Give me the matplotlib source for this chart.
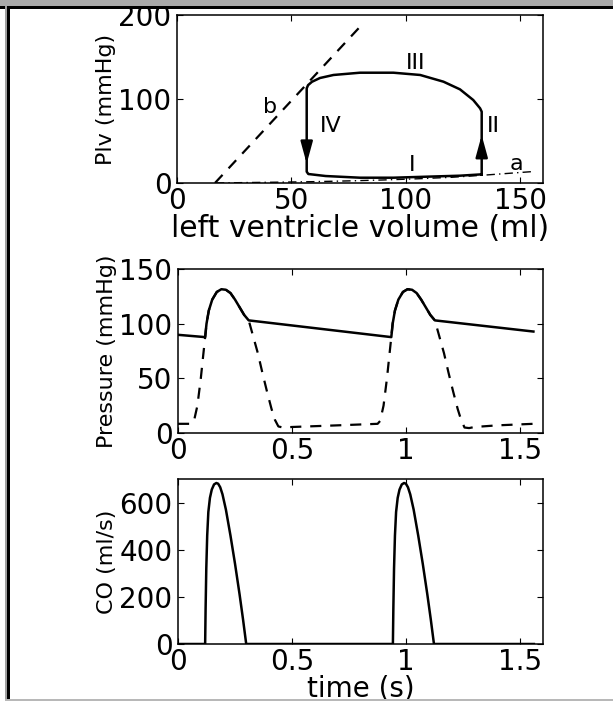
import numpy as np
import matplotlib
matplotlib.use('Agg')
import matplotlib.pyplot as plt
from matplotlib.patches import Rectangle

plt.rcParams['font.family'] = 'DejaVu Sans'

# --- PV loop (top panel) ---
loop_vol = [133.2, 133.2, 132.5, 129.5, 123.7, 116.5, 106.3, 94.6, 80.0, 68.4,
            62.5, 59.0, 57.3, 56.7, 56.7, 57.4, 65.0, 80.0, 94.6, 109.0, 123.7, 133.2]
loop_p = [10.3, 84.9, 88.9, 98.8, 111.5, 120.6, 128.6, 131.3, 131.3, 128.6,
          125.0, 120.5, 116.5, 112.7, 13.5, 10.7, 8.3, 6.3, 6.3, 7.5, 8.7, 10.3]
espvr_vol = [16.6, 80.0]
espvr_p = [0.0, 186.0]
edpvr_vol = [17, 30, 45, 60, 75, 90, 105, 120, 135, 150, 155]
edpvr_p = [0.0, 0.5, 1.0, 1.6, 2.5, 3.6, 5.0, 6.8, 9.5, 12.5, 13.5]

# --- pressures vs time (middle panel) ---
t_ao = [0.0, 0.119, 0.125, 0.135, 0.15, 0.17, 0.19, 0.21, 0.23, 0.25, 0.27, 0.29, 0.31,
        0.935, 0.941, 0.951, 0.966, 0.986, 1.006, 1.026, 1.046, 1.066, 1.086, 1.106, 1.126,
        1.558]
p_ao = [89.8, 87.7, 100, 112, 122, 129, 131.5, 131, 128, 122, 115, 108, 103,
        87.7, 100, 112, 122, 129, 131.5, 131, 128, 122, 115, 108, 103,
        92.8]
t_lv = [0.0, 0.06, 0.07, 0.085, 0.1, 0.11, 0.119, 0.125, 0.135, 0.15, 0.17, 0.19,
        0.21, 0.23, 0.25, 0.27, 0.29, 0.31, 0.33, 0.35, 0.37, 0.39, 0.41, 0.425,
        0.44, 0.46, 0.5, 0.7, 0.875, 0.886, 0.901, 0.916, 0.926, 0.935, 0.941, 0.951,
        0.966, 0.986, 1.006, 1.026, 1.046, 1.066, 1.086, 1.106, 1.126, 1.146, 1.166,
        1.186, 1.206, 1.226, 1.241, 1.256, 1.276, 1.3, 1.4, 1.558]
p_lv = [8.4, 8.4, 11, 25, 50, 70, 87.7, 100, 112, 122, 129, 131.5,
        131, 128, 122, 115, 108, 103, 88, 73, 55, 38, 22, 12,
        6, 5, 5.5, 7, 8.4, 11, 25, 50, 70, 87.7, 100, 112,
        122, 129, 131.5, 131, 128, 122, 115, 108, 103, 88, 73,
        55, 38, 22, 12, 5, 4.5, 5.5, 7, 8.4]

# --- cardiac output (bottom panel) ---
t_co = [0.0, 0.119, 0.121, 0.124, 0.128, 0.133, 0.14, 0.148, 0.158, 0.168, 0.176,
        0.185, 0.195, 0.21, 0.23, 0.25, 0.27, 0.285, 0.299,
        0.942, 0.944, 0.947, 0.951, 0.956, 0.963, 0.971, 0.981, 0.991, 0.999,
        1.008, 1.018, 1.033, 1.053, 1.073, 1.093, 1.108, 1.122, 1.56]
co = [0, 0, 150, 320, 460, 560, 620, 655, 677, 683, 680,
      665, 635, 570, 460, 340, 210, 105, 0,
      0, 150, 320, 460, 560, 620, 655, 677, 683, 680,
      665, 635, 570, 460, 340, 210, 105, 0, 0]

W, H = 613, 701


def box(x, y, w, h):
    # pixel box (from top-left) -> figure fraction
    return [x / W, 1 - (y + h) / H, w / W, h / H]


def style(ax):
    ax.tick_params(direction='in', top=True, right=True, length=4, width=0.8,
                   labelsize=20, pad=3)
    ax.tick_params(axis='y', pad=4)
    for s in ax.spines.values():
        s.set_linewidth(1.1)


fig = plt.figure(figsize=(W / 100, H / 100), dpi=100)

# window frame
for (x, y, w, h, c) in [(0, 0, W, 5.5, '#a9a9a9'), (0, 5.5, W, 3, 'black'),
                        (4.5, 5.5, 2.5, H, '#a0a0a0'), (7, 5.5, 2.5, H, 'black'),
                        (4.5, 698.5, W, 2, '#b8b8b8')]:
    fig.add_artist(Rectangle((x / W, 1 - (y + h) / H), w / W, h / H,
                             transform=fig.transFigure, color=c, lw=0))

lw = 1.8

ax1 = fig.add_axes(box(177, 15, 366, 168))
ax1.plot(loop_vol, loop_p, color='k', lw=lw)
ax1.plot(espvr_vol, espvr_p, color='k', lw=1.6, dashes=(5, 4))
ax1.plot(edpvr_vol, edpvr_p, color='k', lw=1.0, dashes=(6, 3, 1, 3))
arrow = dict(arrowstyle='-|>,head_length=1.1,head_width=0.3', color='k', lw=lw,
             mutation_scale=12, shrinkA=0, shrinkB=0)
ax1.annotate('', xy=(56.7, 23), xytext=(56.7, 45), arrowprops=arrow)
ax1.annotate('', xy=(133.2, 57), xytext=(133.2, 38), arrowprops=arrow)
for (x, y, s) in [(104.4, 143, 'III'), (138.5, 68, 'II'), (67, 68, 'IV'),
                  (102.6, 21, 'I'), (40.5, 91, 'b'), (148.5, 23, 'a')]:
    ax1.text(x, y, s, fontsize=16, ha='center', va='center')
ax1.set_xlim(0, 160)
ax1.set_ylim(0, 200)
ax1.set_xticks([0, 50, 100, 150])
ax1.set_yticks([0, 100, 200])
ax1.set_xlabel('left ventricle volume (ml)', fontsize=21.5, labelpad=-1)
ax1.set_ylabel('Plv (mmHg)', fontsize=16, labelpad=2)
style(ax1)

ax2 = fig.add_axes(box(178, 269, 365, 164))
ax2.plot(t_lv, p_lv, color='k', lw=1.6, dashes=(5, 4))
ax2.plot(t_ao, p_ao, color='k', lw=lw)
ax2.set_xlim(0, 1.6)
ax2.set_ylim(0, 150)
ax2.set_xticks([0, 0.5, 1, 1.5])
ax2.set_xticklabels(['0', '0.5', '1', '1.5'])
ax2.set_yticks([0, 50, 100, 150])
ax2.set_ylabel('Pressure (mmHg)', fontsize=16, labelpad=2)
style(ax2)

ax3 = fig.add_axes(box(178, 479, 365, 165))
ax3.plot(t_co, co, color='k', lw=lw)
ax3.set_xlim(0, 1.6)
ax3.set_ylim(0, 700)
ax3.set_xticks([0, 0.5, 1, 1.5])
ax3.set_xticklabels(['0', '0.5', '1', '1.5'])
ax3.set_yticks([0, 200, 400, 600])
ax3.set_xlabel('time (s)', fontsize=20, labelpad=-1.5)
ax3.set_ylabel('CO (ml/s)', fontsize=16, labelpad=2)
style(ax3)

fig.savefig('out.png', dpi=100)
